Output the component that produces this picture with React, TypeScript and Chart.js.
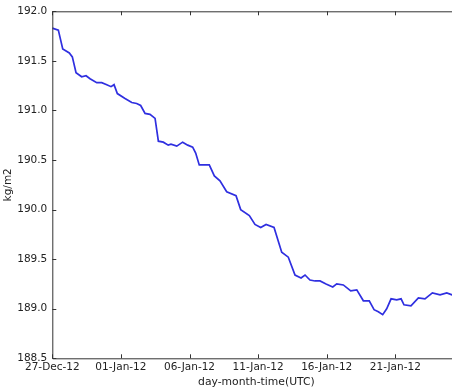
import React, { useEffect, useRef } from "react";
import { Chart, registerables } from "chart.js";

Chart.register(...registerables);

// Time in days since 27-Dec 00:00 UTC
const dayOffsets = [
  0.0, 0.44, 0.76, 1.24, 1.46, 1.73, 2.14, 2.46, 2.75, 3.24,
  3.6, 3.97, 4.28, 4.5, 4.74, 5.3, 5.79, 6.15, 6.44, 6.76,
  7.12, 7.49, 7.73, 8.09, 8.45, 8.65, 9.07, 9.5, 9.87, 10.23,
  10.45, 10.71, 11.18, 11.44, 11.81, 12.22, 12.71, 13.39, 13.73, 14.36,
  14.77, 15.19, 15.58, 16.16, 16.72, 17.2, 17.69, 18.13, 18.42, 18.78,
  19.15, 19.51, 19.95, 20.44, 20.73, 21.21, 21.75, 22.19, 22.67, 23.1,
  23.45, 23.76, 24.08, 24.37, 24.69, 25.1, 25.42, 25.63, 26.14, 26.68,
  27.16, 27.7, 28.26, 28.75, 29.13, 29.5,
];

// Column mass (kg/m2)
const massValues = [
  191.83, 191.81, 191.62, 191.58, 191.54, 191.38, 191.34, 191.35, 191.32, 191.28,
  191.28, 191.26, 191.24, 191.26, 191.17, 191.12, 191.08, 191.07, 191.05, 190.97,
  190.96, 190.92, 190.69, 190.68, 190.65, 190.66, 190.64, 190.68, 190.65, 190.63,
  190.57, 190.45, 190.45, 190.45, 190.34, 190.29, 190.18, 190.14, 190.0, 189.94,
  189.85, 189.82, 189.85, 189.82, 189.57, 189.52, 189.34, 189.31, 189.34, 189.29,
  189.28, 189.28, 189.25, 189.22, 189.25, 189.24, 189.18, 189.19, 189.08, 189.08,
  188.99, 188.97, 188.94, 189.0, 189.1, 189.09, 189.1, 189.04, 189.03, 189.11,
  189.1, 189.16, 189.14, 189.16, 189.14, 189.14,
];

const tickDays = [0, 5, 10, 15, 20, 25];
const tickLabels = ["27-Dec-12", "01-Jan-12", "06-Jan-12", "11-Jan-12", "16-Jan-12", "21-Jan-12"];

const X_MIN = 0;
const X_MAX = 29.75;
const Y_MIN = 188.5;
const Y_MAX = 192.0;

const FONT = { family: "'DejaVu Sans', sans-serif", size: 10.5 };
const TEXT = "#222";
const AXIS = "#333";

// Boxed axes with inward tick marks
const framePlugin = {
  id: "frame",
  afterDraw(chart: any) {
    const { ctx, chartArea: a, scales } = chart;
    const tl = 4;
    ctx.save();
    ctx.strokeStyle = AXIS;
    ctx.lineWidth = 1;
    ctx.beginPath();
    ctx.rect(a.left + 0.5, a.top + 0.5, a.right - a.left, a.bottom - a.top);
    for (const t of scales.x.ticks) {
      const px = Math.round(scales.x.getPixelForValue(t.value)) + 0.5;
      ctx.moveTo(px, a.bottom);
      ctx.lineTo(px, a.bottom - tl);
      ctx.moveTo(px, a.top);
      ctx.lineTo(px, a.top + tl);
    }
    for (const t of scales.y.ticks) {
      const py = Math.round(scales.y.getPixelForValue(t.value)) + 0.5;
      ctx.moveTo(a.left, py);
      ctx.lineTo(a.left + tl, py);
      ctx.moveTo(a.right, py);
      ctx.lineTo(a.right - tl, py);
    }
    ctx.stroke();
    ctx.restore();
  },
};

export default function App() {
  const canvasRef = useRef<HTMLCanvasElement | null>(null);

  useEffect(() => {
    const canvas = canvasRef.current;
    if (!canvas) return;
    const points = dayOffsets.map((d, i) => ({ x: d, y: massValues[i] }));
    const chart = new Chart(canvas, {
      type: "line",
      data: {
        datasets: [
          {
            data: points,
            borderColor: "#2f2fe0",
            borderWidth: 1.7,
            pointRadius: 0,
            tension: 0,
            fill: false,
          },
        ],
      },
      options: {
        animation: false,
        responsive: false,
        devicePixelRatio: 1,
        layout: { padding: { left: 0, top: 8.3, right: 9.5, bottom: 0 } },
        plugins: {
          legend: { display: false },
          tooltip: { enabled: false },
        },
        scales: {
          x: {
            type: "linear",
            min: X_MIN,
            max: X_MAX,
            grid: { display: false, drawTicks: false },
            border: { display: false },
            afterBuildTicks: (scale: any) => {
              scale.ticks = tickDays.map((v) => ({ value: v }));
            },
            afterFit: (scale: any) => {
              scale.height = 30.7;
            },
            ticks: {
              font: FONT,
              color: TEXT,
              padding: 3,
              maxRotation: 0,
              autoSkip: false,
              callback: (value: any) => {
                const i = tickDays.indexOf(Number(value));
                return i >= 0 ? tickLabels[i] : "";
              },
            },
            title: {
              display: true,
              text: "day-month-time(UTC)",
              font: { ...FONT, size: 10.8 },
              color: TEXT,
              padding: { top: 1, bottom: 0 },
            },
          },
          y: {
            min: Y_MIN,
            max: Y_MAX,
            grid: { display: false, drawTicks: false },
            border: { display: false },
            afterFit: (scale: any) => {
              scale.width = 52.3;
            },
            ticks: {
              stepSize: 0.5,
              font: FONT,
              color: TEXT,
              padding: 5,
              callback: (value: any) => Number(value).toFixed(1),
            },
            title: {
              display: true,
              text: "kg/m2",
              font: FONT,
              color: TEXT,
              padding: { top: 2, bottom: 0 },
            },
          },
        },
      },
      plugins: [framePlugin],
    });
    return () => chart.destroy();
  }, []);

  return (
    <div
      style={{
        position: "fixed",
        left: 0,
        top: 0,
        width: 452,
        height: 389,
        overflow: "hidden",
        background: "#fff",
      }}
    >
      <canvas ref={canvasRef} width={470} height={389} style={{ display: "block" }} />
    </div>
  );
}
